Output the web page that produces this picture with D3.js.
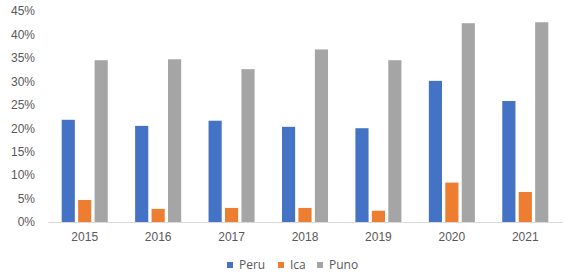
<!DOCTYPE html>
<html>
<head>
<meta charset="utf-8">
<script src="https://cdn.jsdelivr.net/npm/d3@7"></script>
<style>
  body { margin: 0; background: #fff; }
  svg { display: block; font-family: "Open Sans", "Noto Sans", sans-serif; }
</style>
</head>
<body>
<div id="chart"></div>
<script>
const years = ["2015", "2016", "2017", "2018", "2019", "2020", "2021"];
const seriesNames = ["Peru", "Ica", "Puno"];
const peru = [0.218, 0.205, 0.216, 0.203, 0.200, 0.301, 0.258];
const ica = [0.047, 0.028, 0.030, 0.030, 0.024, 0.084, 0.064];
const puno = [0.345, 0.347, 0.326, 0.368, 0.345, 0.424, 0.426];
const yTicks = [0, 0.05, 0.1, 0.15, 0.2, 0.25, 0.3, 0.35, 0.4, 0.45];
const colors = ["#4472C4", "#ED7D31", "#A5A5A5"];

const width = 566, height = 280;
const plotLeft = 48, plotRight = 562, plotTop = 11, plotBottom = 222;

const rows = years.map((yr, i) => ({ year: yr, values: [peru[i], ica[i], puno[i]] }));

const svg = d3.select("#chart").append("svg")
    .attr("width", width)
    .attr("height", height);

const x0 = d3.scaleBand()
    .domain(years)
    .range([plotLeft, plotRight])
    .paddingInner(0.373)
    .paddingOuter(0.1865);

const x1 = d3.scaleBand()
    .domain(seriesNames)
    .range([0, x0.bandwidth()])
    .paddingInner(0.2)
    .paddingOuter(0);

const y = d3.scaleLinear()
    .domain([0, 0.45])
    .range([plotBottom, plotTop]);

// y labels
const yAxis = svg.append("g")
    .attr("transform", `translate(${plotLeft - 13},0)`)
    .call(d3.axisLeft(y).tickValues(yTicks).tickFormat(d3.format(".0%")).tickSize(0).tickPadding(0));
yAxis.select(".domain").remove();
yAxis.selectAll("text")
    .attr("fill", "#595959")
    .style("font-size", "12px");

// bars
const group = svg.append("g")
    .selectAll("g")
    .data(rows)
    .enter().append("g")
    .attr("transform", d => `translate(${x0(d.year)},0)`);

group.selectAll("rect")
    .data(d => d.values.map((v, i) => ({ key: seriesNames[i], value: v, i })))
    .enter().append("rect")
    .attr("x", d => x1(d.key))
    .attr("y", d => y(d.value))
    .attr("width", x1.bandwidth())
    .attr("height", d => y(0) - y(d.value))
    .attr("fill", d => colors[d.i]);

// x axis
const xAxis = svg.append("g")
    .attr("transform", `translate(0,${plotBottom})`)
    .call(d3.axisBottom(x0).tickSize(0).tickPadding(10));
xAxis.select(".domain")
    .attr("stroke", "#D9D9D9")
    .attr("stroke-width", 1);
xAxis.selectAll("text")
    .attr("fill", "#595959")
    .style("font-size", "12px");

// legend
const legendX = [227, 278, 317];
const legend = svg.append("g")
    .selectAll("g")
    .data(seriesNames)
    .enter().append("g")
    .attr("transform", (d, i) => `translate(${legendX[i]},262)`);

legend.append("rect")
    .attr("width", 6)
    .attr("height", 6)
    .attr("fill", (d, i) => colors[i]);

legend.append("text")
    .attr("x", 12)
    .attr("y", 3)
    .attr("dy", "0.35em")
    .attr("fill", "#595959")
    .style("font-size", "12px")
    .text(d => d);
</script>
</body>
</html>
